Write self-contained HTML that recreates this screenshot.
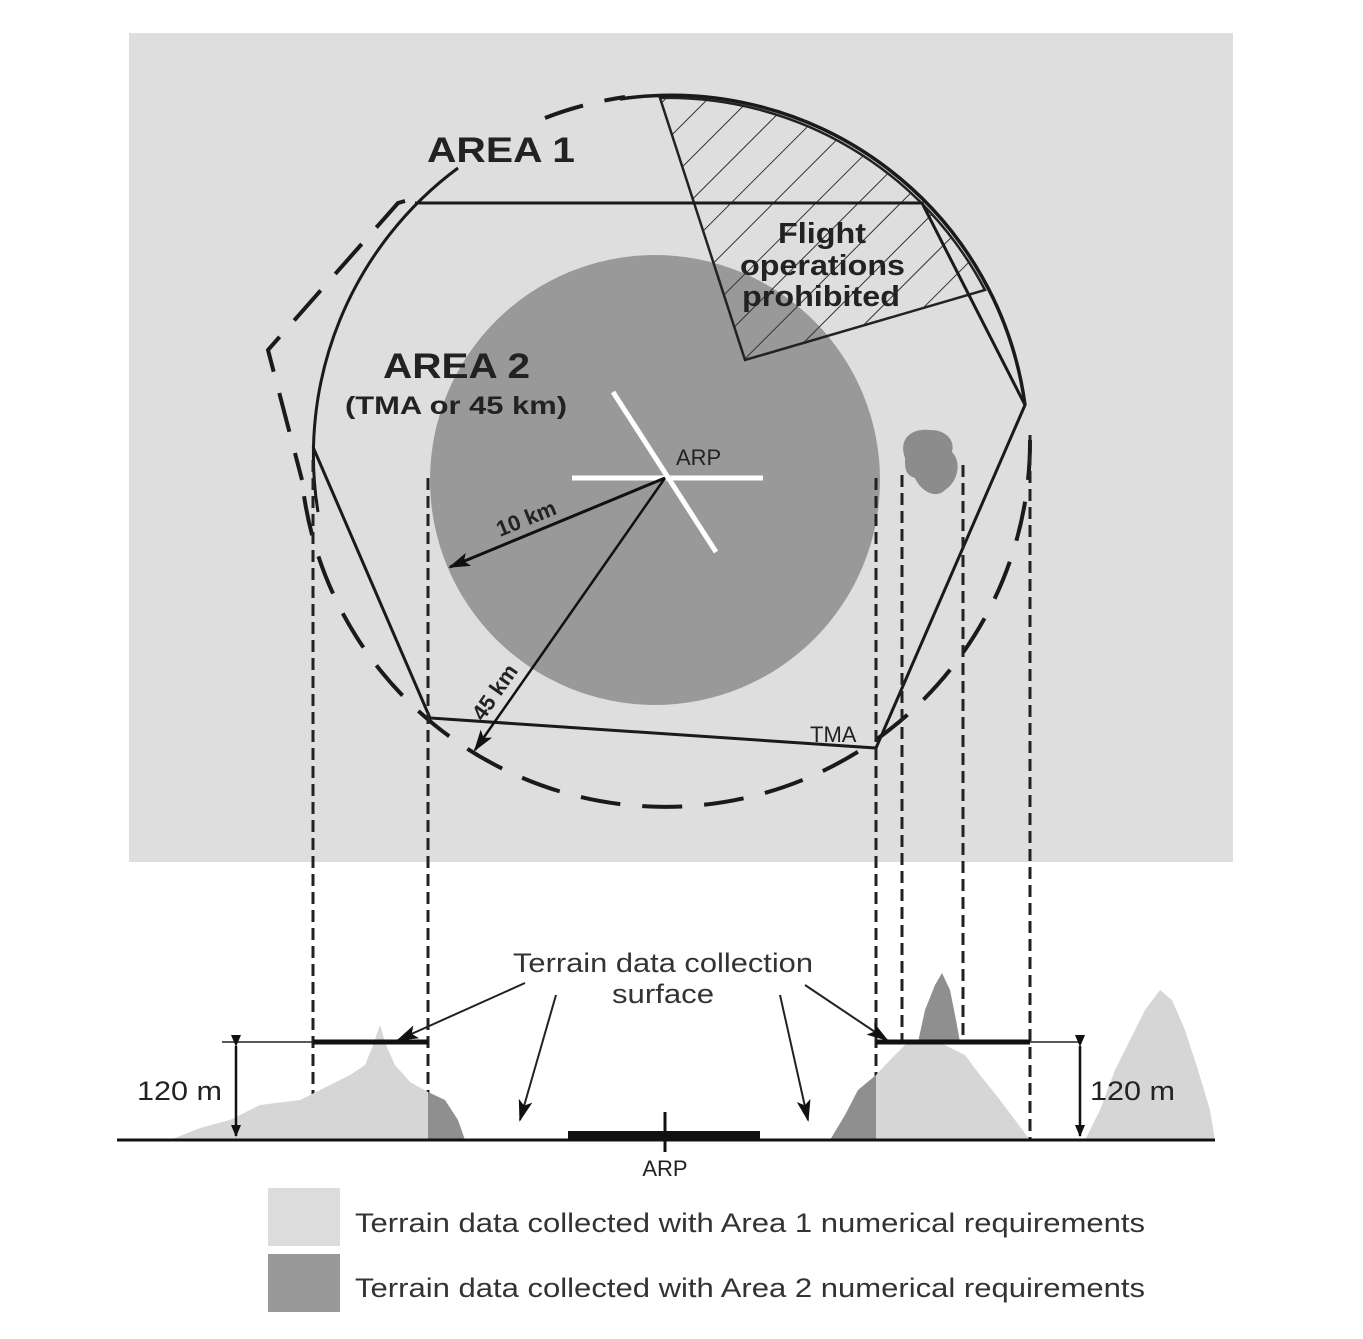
<!DOCTYPE html>
<html><head><meta charset="utf-8"><style>
html,body{margin:0;padding:0;background:#fff}
svg{display:block}
text{font-family:"Liberation Sans",sans-serif}
</style></head><body>
<svg width="1363" height="1339" viewBox="0 0 1363 1339" xmlns="http://www.w3.org/2000/svg">
<defs>
<pattern id="hatch" patternUnits="userSpaceOnUse" width="30" height="30" patternTransform="rotate(45)">
<line x1="0" y1="0" x2="0" y2="30" stroke="#333" stroke-width="2"/>
</pattern>
<marker id="ah" markerWidth="12" markerHeight="10" refX="11" refY="5" orient="auto" markerUnits="userSpaceOnUse" viewBox="0 0 12 10">
<path d="M0,0 L12,5 L0,10 Z" fill="#111"/>
</marker>
<marker id="ah2" markerWidth="22" markerHeight="14" refX="20" refY="7" orient="auto" markerUnits="userSpaceOnUse" viewBox="0 0 22 14">
<path d="M0,0 L22,7 L0,14 L5,7 Z" fill="#111"/>
</marker>
</defs>
<rect x="129" y="33" width="1104" height="829" fill="#dedede"/>
<circle cx="655" cy="480" r="225" fill="#999"/>
<path d="M660,98 L745,360 L985,290 A357,357 0 0 0 660,98 Z" fill="url(#hatch)" stroke="#222" stroke-width="2.5"/>
<path d="M905,458 C898,438 912,428 930,430 C948,430 955,442 952,452 C962,462 958,482 945,490 C935,500 920,490 915,478 C905,475 905,468 905,458 Z" fill="#8c8c8c"/>
<polyline points="415,203 922,203 1025,405 876,748 430,718 313,447" fill="none" stroke="#1a1a1a" stroke-width="3"/>
<path d="M318,512 A357,357 0 0 1 458,168" fill="none" stroke="#1a1a1a" stroke-width="3"/>
<path d="M620,99 A357,357 0 0 1 1025,405" fill="none" stroke="#1a1a1a" stroke-width="3.5"/>
<g fill="none" stroke="#1a1a1a" stroke-width="4" stroke-dasharray="40,22">
<path d="M1030,440 A365,365 0 0 1 302,480"/>
<polyline points="405,201 398,203 268,350 302,480"/>
<path d="M545,118 A365,365 0 0 1 625,97"/>
</g>
<line x1="572" y1="478" x2="763" y2="478" stroke="#fff" stroke-width="5"/>
<line x1="613" y1="392" x2="716" y2="552" stroke="#fff" stroke-width="5"/>
<text x="676" y="465" font-size="22" fill="#222">ARP</text>
<line x1="665" y1="478" x2="450" y2="567" stroke="#111" stroke-width="3" marker-end="url(#ah2)"/>
<line x1="665" y1="478" x2="475" y2="750" stroke="#111" stroke-width="2.5" marker-end="url(#ah2)"/>
<text x="0" y="0" font-size="22" font-weight="bold" fill="#222" transform="translate(500,537) rotate(-22)">10 km</text>
<text x="0" y="0" font-size="22" font-weight="bold" fill="#222" transform="translate(483,722) rotate(-55)">45 km</text>
<text x="427" y="162" font-size="35" font-weight="bold" fill="#222" textLength="148" lengthAdjust="spacingAndGlyphs">AREA 1</text>
<text x="383" y="378" font-size="35" font-weight="bold" fill="#222" textLength="147" lengthAdjust="spacingAndGlyphs">AREA 2</text>
<text x="345" y="414" font-size="25" font-weight="bold" fill="#222" textLength="222" lengthAdjust="spacingAndGlyphs">(TMA or 45 km)</text>
<text x="778" y="243" font-size="29" font-weight="bold" fill="#222" textLength="88" lengthAdjust="spacingAndGlyphs">Flight</text>
<text x="740" y="275" font-size="29" font-weight="bold" fill="#222" textLength="165" lengthAdjust="spacingAndGlyphs">operations</text>
<text x="742" y="306" font-size="29" font-weight="bold" fill="#222" textLength="158" lengthAdjust="spacingAndGlyphs">prohibited</text>
<text x="810" y="742" font-size="22" fill="#222">TMA</text>
<g stroke="#222" stroke-width="3" stroke-dasharray="12,6">
<line x1="313" y1="460" x2="313" y2="1135"/>
<line x1="428" y1="478" x2="428" y2="1140"/>
<line x1="876" y1="478" x2="876" y2="1140"/>
<line x1="902" y1="475" x2="902" y2="1040"/>
<line x1="963" y1="465" x2="963" y2="1040"/>
<line x1="1030" y1="435" x2="1030" y2="1140"/>
</g>
<path d="M170,1140 L200,1128 L230,1120 L260,1105 L300,1100 L330,1085 L350,1075 L365,1065 L372,1048 L380,1025 L386,1045 L395,1065 L410,1082 L428,1092 L428,1140 Z" fill="#d6d6d6"/>
<path d="M428,1092 L445,1100 L458,1120 L465,1140 L428,1140 Z" fill="#8f8f8f"/>
<path d="M830,1140 L845,1115 L858,1090 L876,1075 L876,1140 Z" fill="#8f8f8f"/>
<path d="M876,1075 L890,1060 L905,1045 L925,1040 L945,1045 L965,1055 L980,1075 L1000,1100 L1015,1120 L1030,1140 L876,1140 Z" fill="#d6d6d6"/>
<path d="M918,1042 L925,1010 L935,985 L942,973 L950,990 L956,1020 L960,1042 Z" fill="#8f8f8f"/>
<path d="M1085,1140 L1100,1110 L1115,1070 L1130,1040 L1145,1010 L1160,990 L1172,1000 L1185,1030 L1198,1070 L1210,1110 L1215,1140 Z" fill="#d6d6d6"/>
<line x1="117" y1="1140" x2="1215" y2="1140" stroke="#111" stroke-width="3"/>
<rect x="568" y="1131" width="192" height="10" fill="#111"/>
<line x1="665" y1="1112" x2="665" y2="1152" stroke="#111" stroke-width="3"/>
<text x="665" y="1176" font-size="22" fill="#222" text-anchor="middle">ARP</text>
<line x1="222" y1="1042" x2="428" y2="1042" stroke="#222" stroke-width="1.5"/>
<line x1="313" y1="1042" x2="428" y2="1042" stroke="#111" stroke-width="5"/>
<line x1="876" y1="1042" x2="1080" y2="1042" stroke="#222" stroke-width="1.5"/>
<line x1="876" y1="1042" x2="1030" y2="1042" stroke="#111" stroke-width="5"/>
<line x1="236" y1="1046" x2="236" y2="1136" stroke="#111" stroke-width="2.5" marker-start="url(#ah)" marker-end="url(#ah)"/>
<line x1="1080" y1="1046" x2="1080" y2="1136" stroke="#111" stroke-width="2.5" marker-start="url(#ah)" marker-end="url(#ah)"/>
<text x="137" y="1100" font-size="27" fill="#222" textLength="85" lengthAdjust="spacingAndGlyphs">120 m</text>
<text x="1090" y="1100" font-size="27" fill="#222" textLength="85" lengthAdjust="spacingAndGlyphs">120 m</text>
<text x="513" y="972" font-size="27" fill="#333" textLength="300" lengthAdjust="spacingAndGlyphs">Terrain data collection</text>
<text x="612" y="1003" font-size="27" fill="#333" textLength="102" lengthAdjust="spacingAndGlyphs">surface</text>
<g stroke="#222" stroke-width="2">
<line x1="525" y1="983" x2="398" y2="1040" marker-end="url(#ah2)"/>
<line x1="556" y1="995" x2="520" y2="1120" marker-end="url(#ah2)"/>
<line x1="780" y1="995" x2="808" y2="1120" marker-end="url(#ah2)"/>
<line x1="805" y1="985" x2="887" y2="1040" marker-end="url(#ah2)"/>
</g>
<rect x="268" y="1188" width="72" height="58" fill="#dcdcdc"/>
<rect x="268" y="1254" width="72" height="58" fill="#999"/>
<text x="355" y="1232" font-size="27" fill="#333" textLength="790" lengthAdjust="spacingAndGlyphs">Terrain data collected with Area 1 numerical requirements</text>
<text x="355" y="1297" font-size="27" fill="#333" textLength="790" lengthAdjust="spacingAndGlyphs">Terrain data collected with Area 2 numerical requirements</text>
</svg>
</body></html>
